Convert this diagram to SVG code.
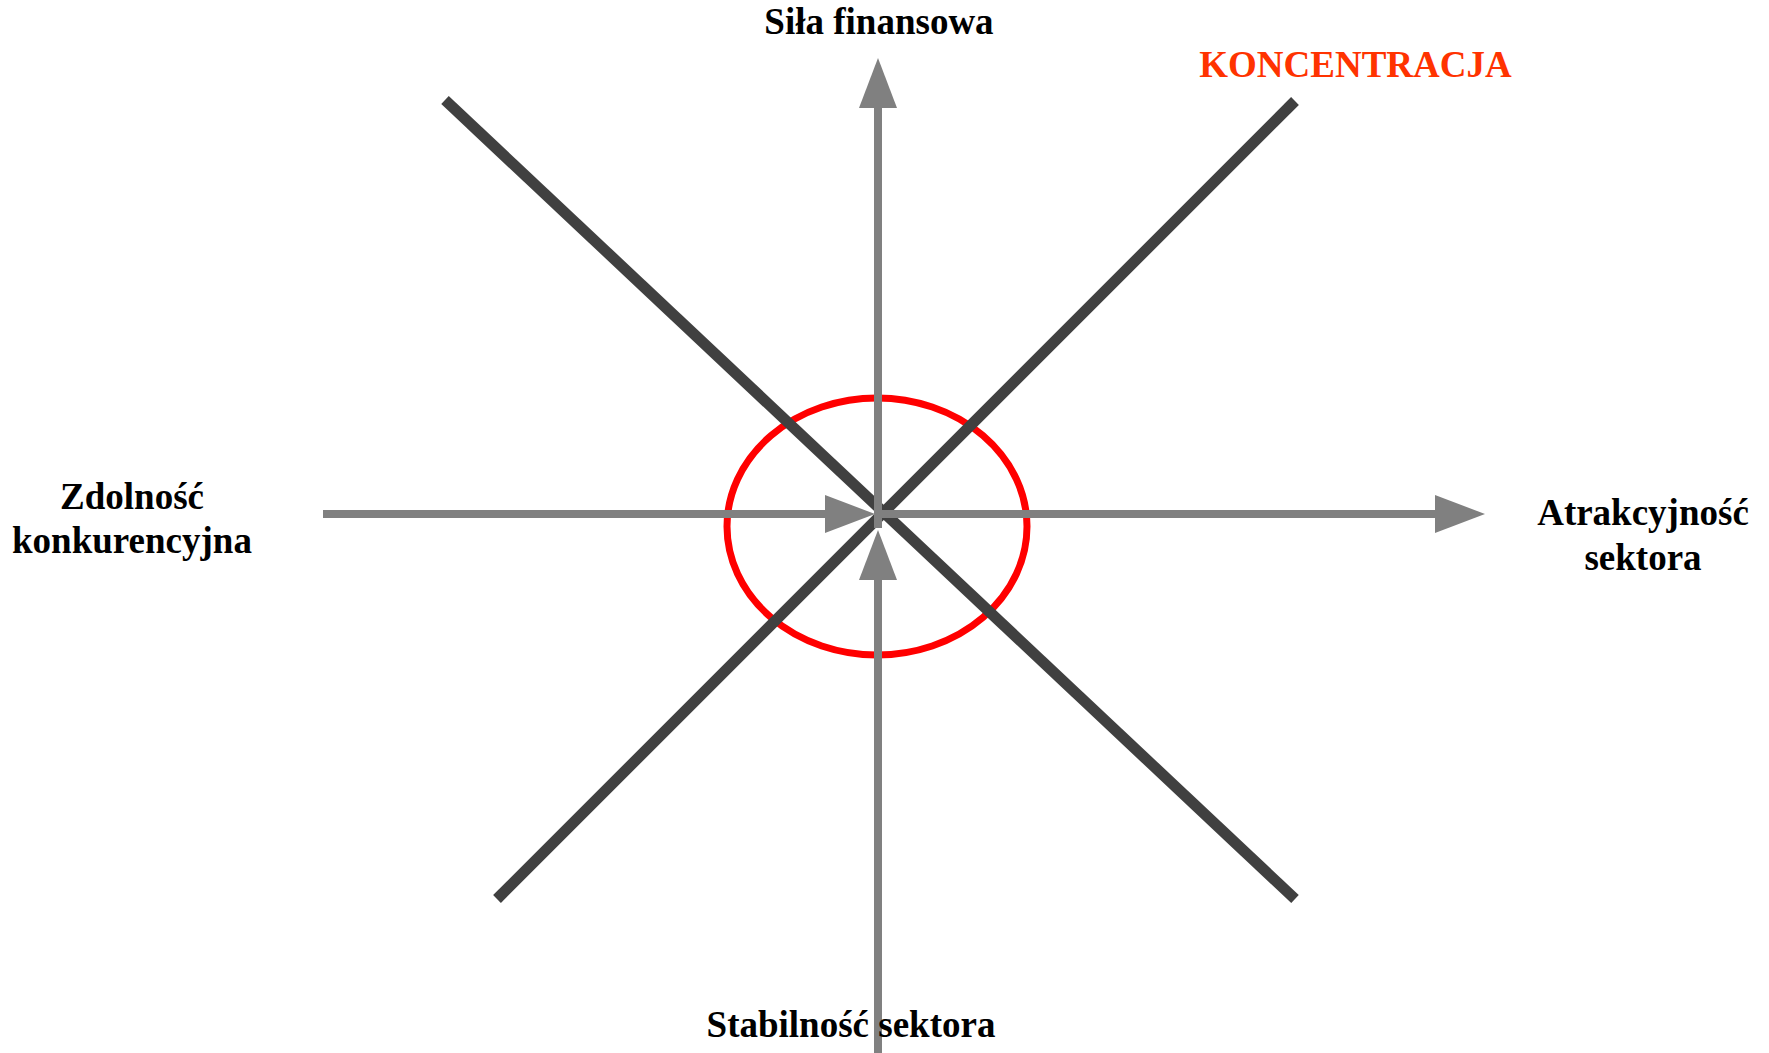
<svg xmlns="http://www.w3.org/2000/svg" width="1769" height="1053" viewBox="0 0 1769 1053">
  <style>
    .lbl { font-family: "Liberation Serif", "Times New Roman", serif; font-weight: bold; font-size: 37px; fill: #000000; text-anchor: middle; }
    .red { fill: #FF3300; }
    .axis { stroke: #808080; stroke-width: 8; fill: none; }
    .diag { stroke: #404040; stroke-width: 11; fill: none; stroke-linecap: butt; }
  </style>
  <defs>
    <marker id="ah" markerUnits="userSpaceOnUse" markerWidth="50" markerHeight="38" refX="0" refY="19" orient="auto" viewBox="0 0 50 38">
      <path d="M0,0 L50,19 L0,38 Z" fill="#808080"/>
    </marker>
  </defs>
  <rect width="1769" height="1053" fill="#FFFFFF"/>
  <g id="koncentracja-ellipse">
    <ellipse cx="877" cy="526.5" rx="150" ry="128.5" fill="none" stroke="#FF0000" stroke-width="7"/>
  </g>
  <g id="connectors">
    <line class="diag" x1="445" y1="100" x2="1295" y2="899"/>
    <line class="diag" x1="1295" y1="101" x2="497" y2="899"/>
    <line class="axis" x1="878" y1="528" x2="878" y2="108" marker-end="url(#ah)"/>
    <line class="axis" x1="878" y1="1053" x2="878" y2="580" marker-end="url(#ah)"/>
    <line class="axis" x1="323" y1="514" x2="825" y2="514" marker-end="url(#ah)"/>
    <line class="axis" x1="880" y1="514" x2="1435" y2="514" marker-end="url(#ah)"/>
  </g>
  <g id="sila-finansowa">
    <text class="lbl" x="879" y="34">Siła finansowa</text>
  </g>
  <g id="koncentracja">
    <text class="lbl red" x="1355.5" y="77">KONCENTRACJA</text>
  </g>
  <g id="zdolnosc-konkurencyjna">
    <text class="lbl" x="132" y="509">Zdolność</text>
    <text class="lbl" x="132" y="553">konkurencyjna</text>
  </g>
  <g id="atrakcyjnosc-sektora">
    <text class="lbl" x="1643" y="525">Atrakcyjność</text>
    <text class="lbl" x="1643" y="570">sektora</text>
  </g>
  <g id="stabilnosc-sektora">
    <text class="lbl" x="851" y="1037">Stabilność sektora</text>
  </g>
</svg>
